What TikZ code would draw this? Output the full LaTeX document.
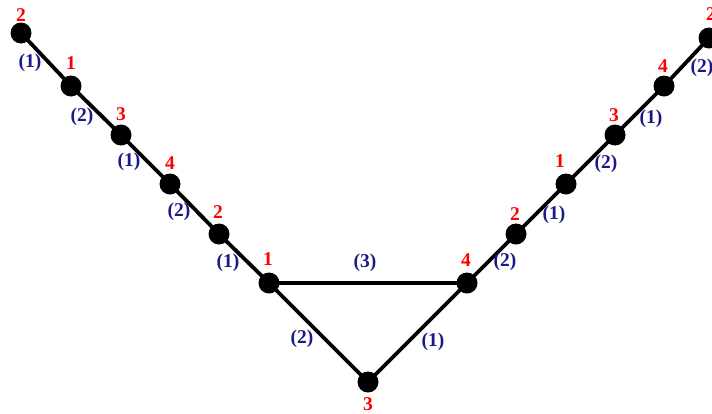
\documentclass[tikz,border=0pt]{standalone}
\usepackage{fontspec}
\setmainfont{Liberation Serif}
\definecolor{lblred}{RGB}{255,0,0}
\definecolor{lblblue}{RGB}{25,25,135}
\begin{document}
\begin{tikzpicture}[x=1pt,y=-1pt,
  vtx/.style={circle,fill=black,minimum size=21pt,inner sep=0pt},
  edgeline/.style={line width=3.8pt,black},
  rlab/.style={text=lblred,font=\fontsize{19.5}{19.5}\selectfont\bfseries,inner sep=0pt},
  blab/.style={text=lblblue,font=\fontsize{19.5}{19.5}\selectfont\bfseries,inner sep=0pt}]
\useasboundingbox (0,0) rectangle (712,413);
\clip (0,0) rectangle (712,413);
% vertices
\coordinate (pL1) at (21,33);
\coordinate (pL2) at (71,86);
\coordinate (pL3) at (121,135);
\coordinate (pL4) at (170,184);
\coordinate (pL5) at (219,234);
\coordinate (pA) at (269,283);
\coordinate (pB) at (368,382);
\coordinate (pC) at (467,283);
\coordinate (pR1) at (516,234);
\coordinate (pR2) at (566,184);
\coordinate (pR3) at (615,135);
\coordinate (pR4) at (664,86);
\coordinate (pR5) at (709,38);
% edges
\draw[edgeline] (pL1) -- (pL2) -- (pL3) -- (pL4) -- (pL5) -- (pA);
\draw[edgeline] (pA) -- (pC);
\draw[edgeline] (pA) -- (pB) -- (pC);
\draw[edgeline] (pC) -- (pR1) -- (pR2) -- (pR3) -- (pR4) -- (pR5);
% nodes
\foreach \n in {L1,L2,L3,L4,L5,A,B,C,R1,R2,R3,R4,R5}
  \node[vtx] (\n) at (p\n) {};
% red vertex labels
\node[rlab] (tL1) at (21,15) {2};
\node[rlab] (tL2) at (71,63) {1};
\node[rlab] (tL3) at (121,114) {3};
\node[rlab] (tL4) at (170,163) {4};
\node[rlab] (tL5) at (218,212) {2};
\node[rlab] (tA) at (268,259) {1};
\node[rlab] (tB) at (368,404) {3};
\node[rlab] (tC) at (466,260) {4};
\node[rlab] (tR1) at (515,214) {2};
\node[rlab] (tR2) at (560,161) {1};
\node[rlab] (tR3) at (614,115) {3};
\node[rlab] (tR4) at (663,66) {4};
\node[rlab] (tR5) at (711,14) {2};
% blue edge labels
\node[blab] (e1) at (30,63) {(1)};
\node[blab] (e2) at (82,117) {(2)};
\node[blab] (e3) at (129,162) {(1)};
\node[blab] (e4) at (179,212) {(2)};
\node[blab] (e5) at (228,263) {(1)};
\node[blab] (e6) at (365,263) {(3)};
\node[blab] (e7) at (302,339) {(2)};
\node[blab] (e8) at (433,342) {(1)};
\node[blab] (e9) at (505,262) {(2)};
\node[blab] (e10) at (554,215) {(1)};
\node[blab] (e11) at (606,164) {(2)};
\node[blab] (e12) at (651,119) {(1)};
\node[blab] (e13) at (702,68) {(2)};
\end{tikzpicture}
\end{document}
